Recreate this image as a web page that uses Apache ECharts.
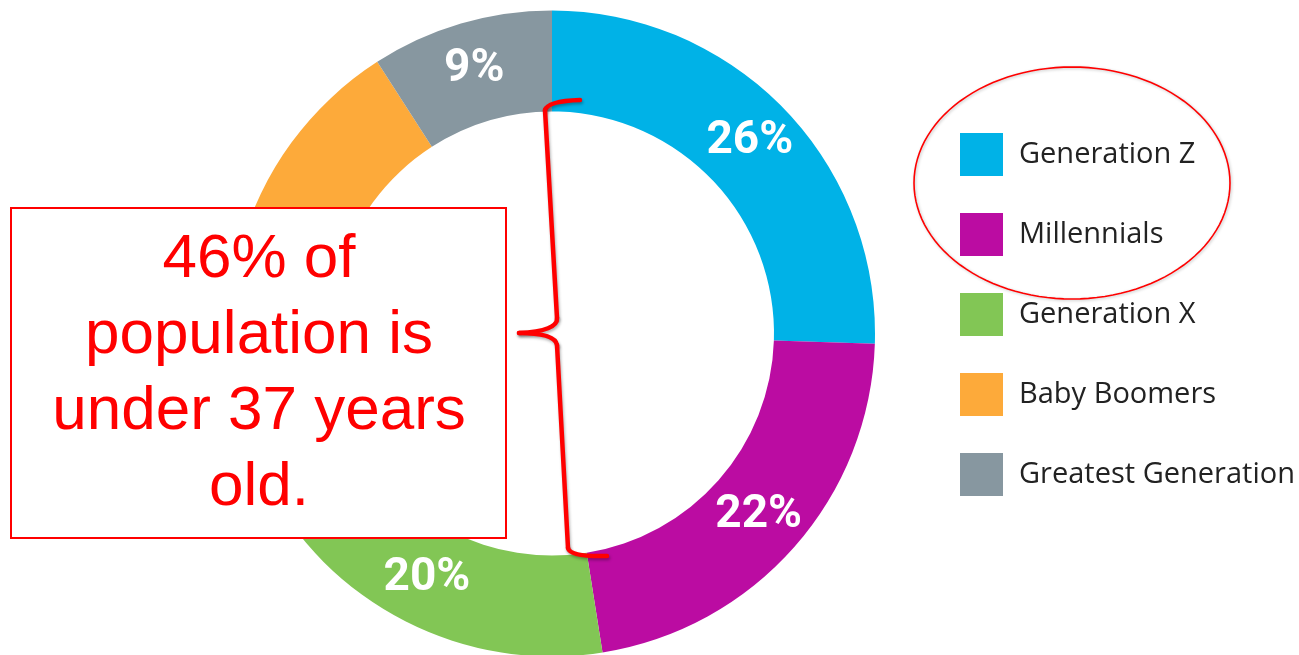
<!DOCTYPE html>
<html>
<head>
<meta charset="utf-8">
<script src="https://cdn.jsdelivr.net/npm/echarts@6/dist/echarts.min.js"></script>
<style>
html,body{margin:0;padding:0;background:#fff;}
#chart{width:1299px;height:655px;}
</style>
</head>
<body>
<div id="chart"></div>
<script>
var categories = ['Generation Z', 'Millennials', 'Generation X', 'Baby Boomers', 'Greatest Generation'];
var shares = [25.5, 22.0, 20.0, 23.4, 9.1];
var colors = ['#00b2e7', '#bb0ca2', '#82c655', '#fdaa3a', '#8797a0'];
var noteLines = ['46% of', 'population is', 'under 37 years', 'old.'];

var red = '#ff0000';
var braceStyle = {fill: 'none', stroke: red, lineWidth: 4.5, lineCap: 'round', lineJoin: 'round',
  shadowBlur: 3, shadowColor: 'rgba(0,0,0,0.3)', shadowOffsetX: 1, shadowOffsetY: 2};

// ellipse outline around first two legend entries (decoration)
var ellipsePts = [];
for (var k = 0; k <= 120; k++) {
  var t = k / 120 * Math.PI * 2;
  ellipsePts.push([1072 + 158 * Math.cos(t), 183 + 116 * Math.sin(t)]);
}

var chart = echarts.init(document.getElementById('chart'), null, {renderer: 'canvas'});
var option = {
  animation: false,
  backgroundColor: '#ffffff',
  color: colors,
  legend: {
    orient: 'vertical',
    left: 960,
    top: 133,
    padding: 0,
    itemWidth: 43,
    itemHeight: 43,
    itemGap: 37,
    icon: 'rect',
    selectedMode: false,
    data: categories,
    textStyle: {
      fontFamily: 'Open Sans',
      fontSize: 29,
      color: '#222222',
      padding: [3, 0, 0, 11]
    }
  },
  series: [{
    type: 'pie',
    silent: true,
    center: [552, 333.5],
    radius: [222, 323],
    startAngle: 90,
    clockwise: true,
    avoidLabelOverlap: false,
    label: {
      show: true,
      position: 'inside',
      color: '#ffffff',
      fontFamily: 'Roboto, sans-serif',
      fontWeight: 'bold',
      fontSize: 46,
      formatter: function (p) { return Math.round(p.value) + '%'; }
    },
    labelLine: {show: false},
    itemStyle: {borderWidth: 0},
    emphasis: {disabled: true},
    data: categories.map(function (c, i) { return {name: c, value: shares[i]}; })
  }],
  graphic: [
    {
      type: 'rect', z: 100,
      shape: {x: 11, y: 208, width: 495, height: 330},
      style: {fill: '#ffffff', stroke: red, lineWidth: 2}
    },
    {
      type: 'text', z: 101,
      x: 259, y: 374,
      style: {
        text: noteLines.join('\n'),
        font: '62px "Liberation Sans", Arial, sans-serif',
        fill: red,
        align: 'center',
        verticalAlign: 'middle',
        lineHeight: 76
      }
    },
    {
      type: 'group', z: 102,
      children: [
        {type: 'bezierCurve', z: 102, shape: {x1: 580, y1: 100, cpx1: 548, cpy1: 101, x2: 545, y2: 110}, style: braceStyle},
        {type: 'line', z: 102, shape: {x1: 545, y1: 110, x2: 557, y2: 318}, style: braceStyle},
        {type: 'bezierCurve', z: 102, shape: {x1: 557, y1: 318, cpx1: 558, cpy1: 331, x2: 519, y2: 333}, style: braceStyle},
        {type: 'bezierCurve', z: 102, shape: {x1: 519, y1: 333, cpx1: 555, cpy1: 333, x2: 557, y2: 345}, style: braceStyle},
        {type: 'line', z: 102, shape: {x1: 557, y1: 345, x2: 568, y2: 548}, style: braceStyle},
        {type: 'bezierCurve', z: 102, shape: {x1: 568, y1: 548, cpx1: 570, cpy1: 557, x2: 607, y2: 556}, style: braceStyle}
      ]
    },
    {
      type: 'polyline', z: 102,
      shape: {points: ellipsePts},
      style: {fill: 'none', stroke: red, lineWidth: 1.6,
              shadowBlur: 3, shadowColor: 'rgba(0,0,0,0.25)', shadowOffsetX: 1, shadowOffsetY: 1}
    }
  ]
};
chart.setOption(option);
</script>
</body>
</html>
